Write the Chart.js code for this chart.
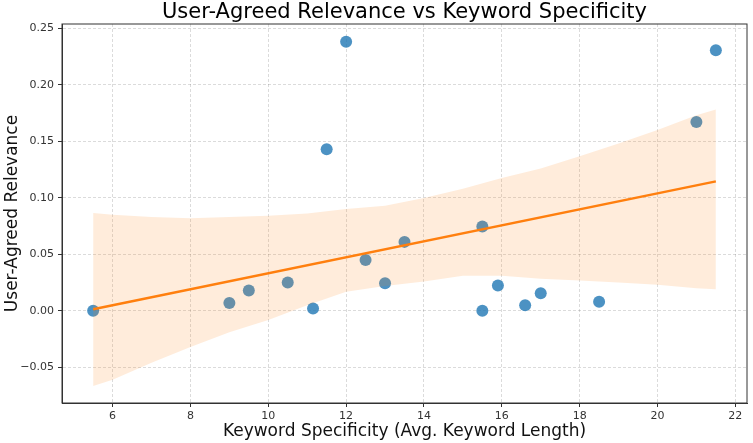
<!DOCTYPE html>
<html>
<head>
<meta charset="utf-8">
<script src="https://cdn.jsdelivr.net/npm/chart.js@4/dist/chart.umd.min.js"></script>
<style>
  html, body { margin: 0; padding: 0; background: #fff; }
  #wrap { width: 753px; height: 443px; }
</style>
</head>
<body>
<div id="wrap"><canvas id="chart" width="753" height="443"></canvas></div>
<script>
// scatter points
const keywordLength = [5.5, 9.0, 9.5, 10.5, 11.15, 11.5, 12.0, 12.5, 13.0, 13.5, 15.5, 15.5, 15.9, 16.6, 17.0, 18.5, 21.0, 21.5];
const relevance     = [0.0, 0.007, 0.018, 0.025, 0.002, 0.143, 0.238, 0.045, 0.0245, 0.061, 0.0745, 0.0, 0.0225, 0.005, 0.0155, 0.008, 0.167, 0.2305];

// regression line ends
const fitX = [5.5, 21.5];
const fitY = [0.0015, 0.1145];

// confidence band edges
const bandX     = [5.5, 6, 7, 8, 9, 10, 11, 12, 13, 14, 15, 16, 17, 18, 19, 20, 21, 21.5];
const bandUpper = [0.0865, 0.085, 0.083, 0.082, 0.083, 0.084, 0.086, 0.090, 0.093, 0.0998, 0.108, 0.1175, 0.126, 0.1367, 0.148, 0.160, 0.173, 0.178];
const bandLower = [-0.0664, -0.061, -0.046, -0.032, -0.019, -0.008, 0.005, 0.017, 0.022, 0.026, 0.031, 0.031, 0.0285, 0.0268, 0.025, 0.023, 0.020, 0.0192];

const xTicks = [6, 8, 10, 12, 14, 16, 18, 20, 22];
const yTicks = [-0.05, 0.00, 0.05, 0.10, 0.15, 0.20, 0.25];

const chartTitle = 'User-Agreed Relevance vs Keyword Specificity';
const xTitle = 'Keyword Specificity (Avg. Keyword Length)';
const yTitle = 'User-Agreed Relevance';

const FONT = "'DejaVu Sans', sans-serif";

function pairs(xs, ys) {
  return xs.map((x, i) => ({ x: x, y: ys[i] }));
}

// frame around the plot + title centred over the plot area
const framePlugin = {
  id: 'frame',
  afterDraw(chart) {
    const a = chart.chartArea;
    const ctx = chart.ctx;
    ctx.save();
    ctx.strokeStyle = '#333';
    ctx.lineWidth = 1;
    ctx.strokeRect(a.left, a.top, a.right - a.left, a.bottom - a.top);
    ctx.fillStyle = '#000';
    ctx.font = '21px ' + FONT;
    ctx.textAlign = 'center';
    ctx.textBaseline = 'middle';
    ctx.fillText(chartTitle, (a.left + a.right) / 2, 13);
    ctx.restore();
  }
};

const gridStyle = {
  color: 'rgba(0,0,0,0.14)',
  tickColor: '#333',
  tickLength: 4,
  tickBorderDash: []
};
const borderStyle = { display: true, color: '#333', width: 1, dash: [3, 2] };

new Chart(document.getElementById('chart'), {
  type: 'scatter',
  data: {
    datasets: [
      {
        label: 'fit',
        data: pairs(fitX, fitY),
        showLine: true,
        borderColor: '#ff7f0e',
        borderWidth: 2.5,
        pointRadius: 0,
        fill: false,
        order: 0
      },
      {
        label: 'upper',
        data: pairs(bandX, bandUpper),
        showLine: true,
        borderWidth: 0,
        borderColor: 'rgba(0,0,0,0)',
        pointRadius: 0,
        fill: false,
        order: 1
      },
      {
        label: 'lower',
        data: pairs(bandX, bandLower),
        showLine: true,
        borderWidth: 0,
        borderColor: 'rgba(0,0,0,0)',
        backgroundColor: 'rgba(255,127,14,0.15)',
        pointRadius: 0,
        fill: '-1',
        order: 2
      },
      {
        label: 'points',
        data: pairs(keywordLength, relevance),
        backgroundColor: 'rgba(31,119,180,0.8)',
        borderWidth: 0,
        pointRadius: 6,
        order: 3
      }
    ]
  },
  options: {
    responsive: false,
    animation: false,
    layout: { padding: { top: 24, right: 2, left: 0, bottom: 0 } },
    plugins: {
      legend: { display: false },
      tooltip: { enabled: false }
    },
    scales: {
      x: {
        type: 'linear',
        min: 4.7,
        max: 22.3,
        grid: gridStyle,
        border: borderStyle,
        afterBuildTicks: (scale) => { scale.ticks = xTicks.map(v => ({ value: v })); },
        afterFit: (scale) => { scale.height = 40; },
        ticks: {
          color: '#333',
          padding: 3,
          font: { family: FONT, size: 11 },
          callback: (v) => String(v)
        },
        title: {
          display: true,
          text: xTitle,
          color: '#111',
          font: { family: FONT, size: 17 },
          padding: { top: 0, bottom: 1 }
        }
      },
      y: {
        type: 'linear',
        min: -0.0815,
        max: 0.2537,
        grid: gridStyle,
        border: borderStyle,
        afterBuildTicks: (scale) => { scale.ticks = yTicks.map(v => ({ value: v })); },
        afterFit: (scale) => { scale.width = 62; },
        ticks: {
          color: '#333',
          padding: 4,
          font: { family: FONT, size: 11 },
          callback: (v) => (v < 0 ? '\u2212' : '') + Math.abs(v).toFixed(2)
        },
        title: {
          display: true,
          text: yTitle,
          color: '#111',
          font: { family: FONT, size: 17 },
          padding: { top: 2, bottom: 0 }
        }
      }
    }
  },
  plugins: [framePlugin]
});
</script>
</body>
</html>
